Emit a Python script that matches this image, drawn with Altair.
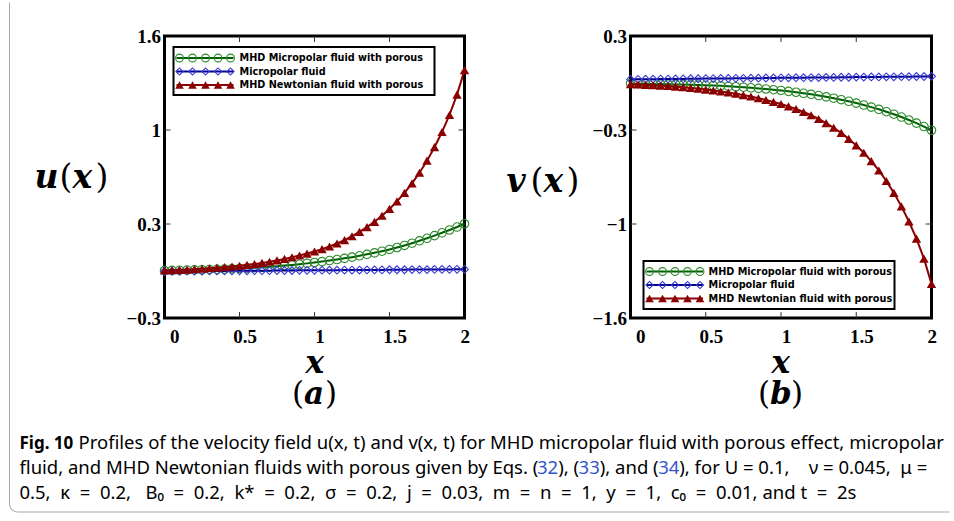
import altair as alt
import pandas as pd

# ---------------- data ----------------
x_grid = [0.0, 0.05, 0.1, 0.15, 0.2, 0.25, 0.3, 0.35, 0.4, 0.45,
          0.5, 0.55, 0.6, 0.65, 0.7, 0.75, 0.8, 0.85, 0.9, 0.95,
          1.0, 1.05, 1.1, 1.15, 1.2, 1.25, 1.3, 1.35, 1.4, 1.45,
          1.5, 1.55, 1.6, 1.65, 1.7, 1.75, 1.8, 1.85, 1.9, 1.95, 2.0]

u_green = [0.020, 0.021, 0.022, 0.023, 0.024, 0.025, 0.027, 0.028, 0.030, 0.032,
           0.034, 0.036, 0.039, 0.042, 0.045, 0.049, 0.053, 0.057, 0.062, 0.068,
           0.074, 0.080, 0.087, 0.094, 0.102, 0.110, 0.119, 0.129, 0.139, 0.150,
           0.162, 0.175, 0.189, 0.204, 0.220, 0.237, 0.255, 0.274, 0.293, 0.313, 0.335]
u_blue = [0.015, 0.015, 0.015, 0.016, 0.016, 0.016, 0.017, 0.017, 0.017, 0.018,
          0.018, 0.018, 0.019, 0.019, 0.019, 0.020, 0.020, 0.020, 0.021, 0.021,
          0.021, 0.022, 0.022, 0.022, 0.023, 0.023, 0.023, 0.024, 0.024, 0.024,
          0.025, 0.025, 0.025, 0.026, 0.026, 0.026, 0.027, 0.027, 0.027, 0.028, 0.028]
u_red = [0.020, 0.022, 0.024, 0.026, 0.029, 0.032, 0.035, 0.039, 0.043, 0.047,
         0.052, 0.058, 0.064, 0.071, 0.079, 0.088, 0.098, 0.109, 0.121, 0.134,
         0.148, 0.164, 0.182, 0.202, 0.225, 0.251, 0.280, 0.312, 0.348, 0.389,
         0.435, 0.486, 0.543, 0.607, 0.679, 0.760, 0.851, 0.953, 1.068, 1.205, 1.370]

v_green = [-0.020, -0.021, -0.022, -0.023, -0.024, -0.025, -0.026, -0.027, -0.028, -0.030,
           -0.032, -0.034, -0.036, -0.039, -0.042, -0.045, -0.049, -0.053, -0.057, -0.062,
           -0.067, -0.073, -0.079, -0.086, -0.093, -0.101, -0.110, -0.119, -0.129, -0.140,
           -0.152, -0.165, -0.179, -0.194, -0.210, -0.227, -0.246, -0.266, -0.287, -0.310, -0.335]
v_blue = [0.008, 0.008, 0.009, 0.009, 0.010, 0.010, 0.011, 0.011, 0.012, 0.012,
          0.013, 0.013, 0.014, 0.014, 0.015, 0.015, 0.016, 0.016, 0.017, 0.017,
          0.018, 0.018, 0.019, 0.019, 0.020, 0.020, 0.021, 0.021, 0.022, 0.022,
          0.023, 0.023, 0.024, 0.024, 0.025, 0.025, 0.026, 0.026, 0.027, 0.027, 0.028]
v_red = [-0.025, -0.027, -0.029, -0.031, -0.034, -0.037, -0.041, -0.045, -0.050, -0.055,
         -0.061, -0.067, -0.074, -0.081, -0.089, -0.098, -0.108, -0.119, -0.131, -0.144,
         -0.158, -0.174, -0.192, -0.212, -0.234, -0.259, -0.287, -0.318, -0.353, -0.393,
         -0.437, -0.487, -0.543, -0.606, -0.677, -0.757, -0.848, -0.950, -1.065, -1.200, -1.370]

series_names = ["MHD Micropolar fluid with porous", "Micropolar fluid",
                "MHD Newtonian fluid with porous"]
line_colors = ["#005f00", "#00008b", "#8b0000"]
marker_colors = ["#2e8b2e", "#3a3ad6", "#8b0000"]
marker_shapes = ["circle", "diamond", "triangle-up"]
marker_filled = [False, False, True]
marker_sizes = [72, 60, 88]

x_tick_values = [0, 0.5, 1, 1.5, 2]
x_tick_labels = ["0", "0.5", "1", "1.5", "2"]
u_domain = [-0.3, 1.6]
u_tick_values = [-0.3, 0.3333333, 0.9666667, 1.6]
u_tick_labels = ["\u22120.3", "0.3", "1", "1.6"]
v_domain = [-1.6, 0.3]
v_tick_values = [-1.6, -0.9666667, -0.3333333, 0.3]
v_tick_labels = ["\u22121.6", "\u22121", "\u22120.3", "0.3"]

NB = "\u00a0"
caption_fig = "Fig. 10"
caption_l1 = ("Profiles of the velocity field u(x, t) and v(x, t) for MHD micropolar fluid "
              "with porous effect, micropolar")
caption_l2 = [("fluid, and MHD Newtonian fluids with porous given by Eqs. (", "black"),
              ("32", "#3355cc"), ("), (", "black"), ("33", "#3355cc"),
              ("), and (", "black"), ("34", "#3355cc"),
              ("), for U = 0.1," + NB * 3 + " \u03bd = 0.045," + NB + " \u03bc =", "black")]
caption_l3 = ("0.5," + NB + " \u03ba" + NB + " = " + NB + "0.2," + NB * 2 + " B\u2080" + NB + " = " + NB
              + "0.2," + NB + " k*" + NB + " = " + NB + "0.2," + NB + " \u03c3" + NB + " = " + NB + "0.2,"
              + NB + " j" + NB + " = " + NB + "0.03," + NB + " m" + NB + " = " + NB + "n" + NB + " = " + NB
              + "1," + NB + " y" + NB + " = " + NB + "1," + NB + " c\u2080" + NB + " = " + NB
              + "0.01, and t" + NB + " = " + NB + "2s")

# ---------------- layout helpers ----------------
H = 282
OX, OY = 163, 34           # page position of the left plot's top-left corner
TICK_FONT = "Liberation Serif"
MATH_FONT = "DejaVu Serif"
CAP_FONT = "Noto Sans"
CAP_SIZE = 18.5

# approximate Noto Sans advance widths (1/1000 em) used to chain caption pieces
NOTO_W = {' ': 260, NB: 260, ',': 250, '.': 268, '(': 296, ')': 296, '=': 572,
          'a': 561, 'b': 615, 'c': 480, 'd': 615, 'e': 564, 'f': 344, 'g': 546, 'h': 618,
          'i': 258, 'j': 258, 'k': 534, 'l': 258, 'm': 935, 'n': 618, 'o': 605, 'p': 615,
          'q': 615, 'r': 413, 's': 479, 't': 361, 'u': 618, 'v': 508, 'w': 786, 'x': 529,
          'y': 510, 'E': 556, 'M': 907, 'H': 735, 'D': 701, 'N': 761, 'U': 730}


def text_w(s, size):
    return sum(NOTO_W.get(c, 572) for c in s) / 1000.0 * size


one = pd.DataFrame({"k": [0]})


def label_expr(vals, labels):
    expr = "''"
    for v, l in reversed(list(zip(vals, labels))):
        expr = f"abs(datum.value - ({v})) < 0.001 ? '{l}' : {expr}"
    return expr


def txt(s, x, y, size, font, weight="normal", style="normal", color="black",
        align="left", baseline="alphabetic"):
    return alt.Chart(one).mark_text(
        text=s, font=font, fontSize=size, fontWeight=weight, fontStyle=style,
        color=color, align=align, baseline=baseline
    ).encode(x=alt.value(x), y=alt.value(y))


def math_label(pieces, x0, base, size=33):
    out = []
    x = x0
    for s, kind, w in pieces:
        if kind == "mi":
            out.append(txt(s, x, base, size, MATH_FONT, weight="bold", style="italic"))
        else:
            out.append(txt(s, x, base, size, MATH_FONT))
        x += w
    return out


def legend(bx0, bx1, by0, by1, rows_y, mx, tx):
    layers = [alt.Chart(one).mark_rect(fill="white", stroke="black", strokeWidth=2).encode(
        x=alt.value(bx0), x2=alt.value(bx1), y=alt.value(by0), y2=alt.value(by1))]
    for i in range(3):
        yy = rows_y[i]
        layers.append(alt.Chart(one).mark_rule(color=line_colors[i], strokeWidth=1.8).encode(
            x=alt.value(mx[0] - 3), x2=alt.value(mx[-1] + 3), y=alt.value(yy)))
        for px in mx:
            layers.append(alt.Chart(one).mark_point(
                shape=marker_shapes[i], filled=marker_filled[i], color=marker_colors[i],
                size=marker_sizes[i] * 0.85, strokeWidth=1.1, opacity=1).encode(
                x=alt.value(px), y=alt.value(yy)))
        layers.append(txt(series_names[i], tx, yy, 9.7, "DejaVu Sans", weight="bold",
                          baseline="middle"))
    return layers


def panel(ys, y_domain, y_tick_values, y_tick_labels, width, extra_layers):
    xscale = alt.Scale(domain=[0, 2], nice=False, zero=False)
    yscale = alt.Scale(domain=y_domain, nice=False, zero=False)
    xaxis = alt.Axis(values=x_tick_values, labelExpr=label_expr(x_tick_values, x_tick_labels),
                     ticks=False, tickSize=0, domain=False, grid=False, title=None,
                     labelFont=TICK_FONT, labelFontSize=19, labelFontWeight="bold",
                     labelColor="black", labelPadding=9, labelOffset=5)
    yaxis = alt.Axis(values=y_tick_values, labelExpr=label_expr(y_tick_values, y_tick_labels),
                     ticks=False, tickSize=0, domain=False, grid=False, title=None,
                     labelFont=TICK_FONT, labelFontSize=19, labelFontWeight="bold",
                     labelColor="black", labelPadding=4)

    def X(f):
        return alt.X(f, type="quantitative", scale=xscale, axis=xaxis)

    def Y(f):
        return alt.Y(f, type="quantitative", scale=yscale, axis=yaxis)

    layers = []
    xt = pd.DataFrame({"xt": x_tick_values[1:-1]})
    yt = pd.DataFrame({"yt": y_tick_values[1:-1]})
    tick_mark = dict(color="#333333", strokeWidth=1)
    layers.append(alt.Chart(xt).mark_rule(**tick_mark).encode(x=X("xt"), y=alt.value(0), y2=alt.value(6)))
    layers.append(alt.Chart(xt).mark_rule(**tick_mark).encode(x=X("xt"), y=alt.value(H), y2=alt.value(H - 6)))
    layers.append(alt.Chart(yt).mark_rule(**tick_mark).encode(y=Y("yt"), x=alt.value(0), x2=alt.value(6)))
    layers.append(alt.Chart(yt).mark_rule(**tick_mark).encode(y=Y("yt"), x=alt.value(width), x2=alt.value(width - 6)))

    for i in range(3):
        df = pd.DataFrame({"x": x_grid, "y": ys[i]})
        layers.append(alt.Chart(df).mark_line(color=line_colors[i], strokeWidth=2).encode(
            x=X("x"), y=Y("y")))
        layers.append(alt.Chart(df).mark_point(
            shape=marker_shapes[i], filled=marker_filled[i], color=marker_colors[i],
            size=marker_sizes[i], strokeWidth=1.1, opacity=1).encode(x=X("x"), y=Y("y")))
    layers += extra_layers
    return alt.layer(*layers).properties(width=width, height=H)


# ---------------- left panel extras (origin at plot's top-left) ----------------
left_extra = []
left_extra += legend(9, 270, 11, 59, [22, 35.5, 49], [15, 28, 41, 53.5, 66], 75)
left_extra += math_label([("u", "mi", 25), ("(", "rm", 13), ("x", "mi", 23), (")", "rm", 13)], -130, 152)
left_extra += math_label([("x", "mi", 0)], 141, 337, size=31)
left_extra += math_label([("(", "rm", 12), ("a", "mi", 21), (")", "rm", 12)], 127.5, 368, size=31)

# caption
cap_base = [412.5, 437.5, 462.5]
left_extra.append(txt(caption_fig, 18 - OX, cap_base[0], 17, CAP_FONT, weight="bold"))
left_extra.append(txt(caption_l1, 77 - OX, cap_base[0], CAP_SIZE, CAP_FONT))
px = 18.0
for s, col in caption_l2:
    left_extra.append(txt(s, px - OX, cap_base[1], CAP_SIZE, CAP_FONT, color=col))
    px += text_w(s, CAP_SIZE)
left_extra.append(txt(caption_l3, 18 - OX, cap_base[2], CAP_SIZE, CAP_FONT))

# figure frame (light grey, rounded bottom-left corner)
frame_c = "#a8a8a8"
left_extra.append(alt.Chart(one).mark_rule(color=frame_c, strokeWidth=1).encode(
    x=alt.value(-155), y=alt.value(-33.5), y2=alt.value(468)))
left_extra.append(alt.Chart(one).mark_rule(color=frame_c, strokeWidth=1).encode(
    x=alt.value(-147), x2=alt.value(785), y=alt.value(476)))
left_extra.append(alt.Chart(one).mark_arc(theta=3.14159, theta2=4.71239, radius=8.5,
                                          radius2=7.5, color=frame_c).encode(
    x=alt.value(-147), y=alt.value(468)))

# ---------------- right panel extras ----------------
right_extra = []
right_extra += legend(13, 264, 225, 273, [235.5, 249, 262.5], [19, 32, 44.5, 57, 69.5], 78)
right_extra += math_label([("v", "mi", 24), ("(", "rm", 13), ("x", "mi", 23), (")", "rm", 13)], -124, 156)
right_extra += math_label([("x", "mi", 0)], 141, 337, size=31)
right_extra += math_label([("(", "rm", 12), ("b", "mi", 21), (")", "rm", 12)], 127.5, 368, size=31)

left = panel([u_green, u_blue, u_red], u_domain, u_tick_values, u_tick_labels, 300, left_extra)
right = panel([v_green, v_blue, v_red], v_domain, v_tick_values, v_tick_labels, 301, right_extra)

chart = alt.hconcat(left, right, spacing=166, bounds="flush").properties(
    padding={"left": 7.5, "top": 0, "right": 0, "bottom": 0},
    background="white",
).configure_view(stroke="black", strokeWidth=3)

chart.save("out.html", embed_options={"renderer": "svg", "actions": False})
